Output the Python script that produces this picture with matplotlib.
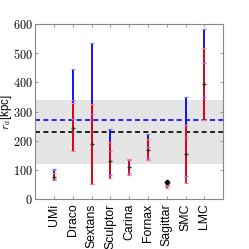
import matplotlib
matplotlib.use("Agg")
import matplotlib.pyplot as plt
import numpy as np

plt.rcParams['mathtext.fontset'] = 'cm'

# galaxies and apocentre estimates [kpc]
names = ['UMi', 'Draco', 'Sextans', 'Sculptor', 'Carina', 'Fornax', 'Sagittar', 'SMC', 'LMC']
center = [78, 245, 190, 133, 110, 170, 60, 155, 395]
blue_lo = [66, 165, 52, 85, 85, 135, 45, 80, 270]
blue_hi = [104, 445, 535, 240, 137, 225, 52, 350, 583]
blue_in_lo = [70, 275, 52, 165, 90, 140, 46, 215, 350]
blue_in_hi = [100, 340, 292, 240, 135, 178, 50, 350, 467]
red_lo = [70, 165, 52, 72, 82, 135, 40, 55, 270]
red_hi = [90, 330, 325, 197, 138, 205, 50, 255, 518]
black_line = 230
blue_line = 273
band = (120, 340)
yticks = [0, 100, 200, 300, 400, 500, 600]

x = np.arange(1, len(names) + 1)

fig = plt.figure(figsize=(2.49, 2.49), dpi=100)
ax = fig.add_axes([0.141, 0.199, 0.755, 0.705])

ax.axhspan(band[0], band[1], color='#e5e5e5', zorder=0, lw=0)

def bars(lo, hi, col, capcol, lw):
    ax.vlines(x, lo, hi, color=col, lw=lw, zorder=3)
    ax.plot(x, lo, '_', color=capcol, ms=2.4, mew=0.8, zorder=4)
    ax.plot(x, hi, '_', color=capcol, ms=2.4, mew=0.8, zorder=4)

bars(blue_lo, blue_hi, 'blue', '#8080ff', 1.3)
ax.plot(x, blue_in_lo, '_', color='#8080ff', ms=2.4, mew=0.8, zorder=4)
ax.plot(x, blue_in_hi, '_', color='#8080ff', ms=2.4, mew=0.8, zorder=4)
bars(red_lo, red_hi, 'red', '#ff8080', 1.3)
keep = [i for i in range(len(names)) if names[i] != 'Sagittar']
ax.plot(x[keep], np.array(center)[keep], '+', color='#303030', ms=2.5, mew=0.9, zorder=5)
ax.plot(x[6], center[6], 'P', color='black', ms=3, zorder=5)

ax.axhline(black_line, color='black', ls='--', lw=1.2, dashes=(3, 2), zorder=2)
ax.axhline(blue_line, color='blue', ls='--', lw=1.2, dashes=(3, 2), zorder=2)

ax.set_xlim(0, 10)
ax.set_ylim(0, 600)
ax.set_xticks(x)
ax.set_xticklabels(names, rotation=90, fontsize=8.8, family='Liberation Sans')
ax.set_yticks(yticks)
ax.set_yticklabels(['$%d$' % v for v in yticks], fontsize=8.8)
ax.tick_params(direction='in', top=True, right=True, length=2.5, width=0.6,
               color='#888888', pad=1.5)
ax.tick_params(axis='x', pad=3)
for s in ax.spines.values():
    s.set_color('#888888')
    s.set_linewidth(0.8)
ax.set_ylabel('$r_a$[kpc]', fontsize=8.3, family='Liberation Sans')
ax.yaxis.set_label_coords(-0.11, 0.5)

fig.savefig('out.png', dpi=100)
